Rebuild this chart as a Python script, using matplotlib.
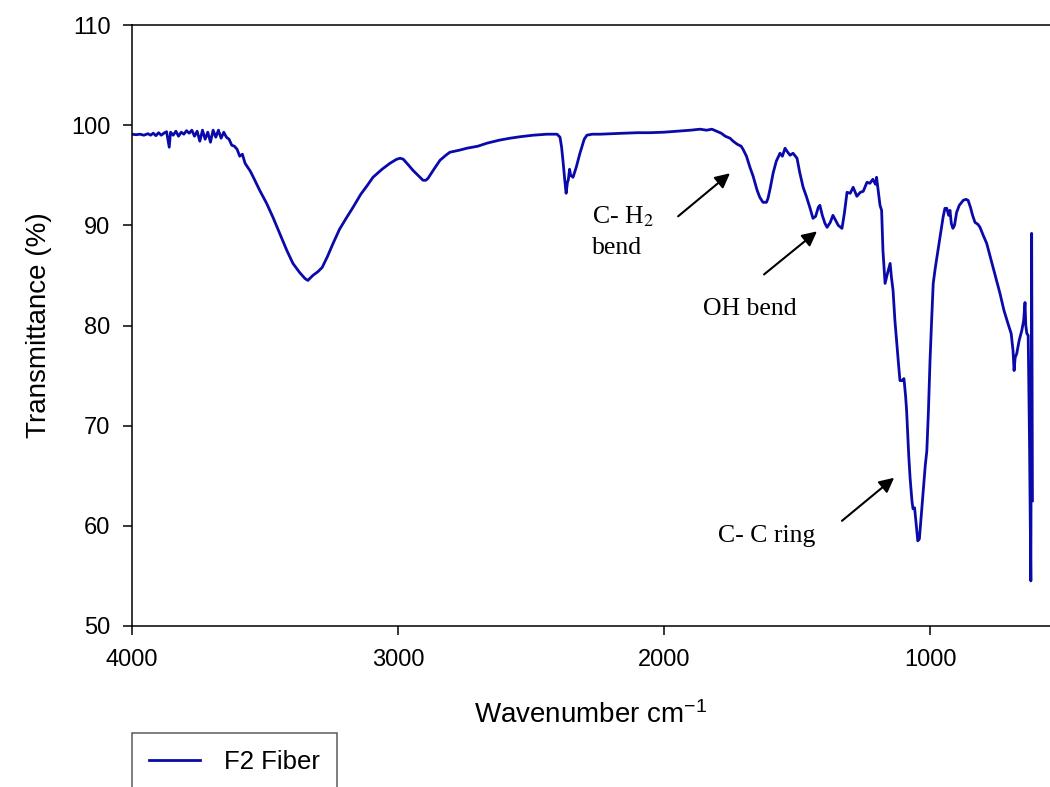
import matplotlib.pyplot as plt

plt.rcParams['font.family'] = ['Liberation Sans', 'DejaVu Sans']
plt.rcParams['mathtext.fontset'] = 'custom'
plt.rcParams['mathtext.rm'] = 'Liberation Sans'
plt.rcParams['mathtext.it'] = 'Liberation Sans:italic'

# FTIR spectrum of the F2 fiber (wavenumber in cm-1, transmittance in %)
wavenumber = [
    4000, 3985, 3970, 3955, 3940, 3930, 3920, 3910, 3900, 3890,
    3880, 3870, 3860, 3855, 3845, 3835, 3825, 3815, 3805, 3795,
    3785, 3775, 3765, 3755, 3745, 3735, 3725, 3715, 3705, 3695,
    3685, 3675, 3665, 3655, 3645, 3635, 3625, 3615, 3605, 3595,
    3585, 3575, 3565, 3555, 3540, 3520, 3494, 3470, 3445, 3418,
    3395, 3370, 3350, 3339, 3320, 3300, 3285, 3265, 3244, 3220,
    3195, 3169, 3140, 3115, 3094, 3060, 3030, 3005, 2992, 2980,
    2960, 2944, 2925, 2906, 2895, 2887, 2865, 2842, 2820, 2805,
    2770, 2741, 2700, 2666, 2620, 2579, 2540, 2492, 2440, 2402,
    2391, 2385, 2380, 2373, 2368, 2363, 2360, 2355, 2351, 2342,
    2330, 2316, 2300, 2290, 2270, 2241, 2200, 2150, 2100, 2053,
    2000, 1950, 1900, 1865, 1840, 1820, 1802, 1785, 1770, 1752,
    1740, 1725, 1710, 1703, 1690, 1677, 1665, 1650, 1640, 1628,
    1615, 1609, 1600, 1590, 1578, 1564, 1555, 1545, 1535, 1526,
    1515, 1500, 1490, 1477, 1465, 1452, 1440, 1430, 1420, 1414,
    1405, 1395, 1387, 1375, 1365, 1355, 1345, 1331, 1322, 1312,
    1300, 1289, 1275, 1262, 1251, 1237, 1226, 1215, 1205, 1201,
    1195, 1188, 1182, 1177, 1169, 1160, 1150, 1145, 1139, 1132,
    1125, 1118, 1113, 1105, 1098, 1092, 1088, 1080, 1075, 1068,
    1064, 1058, 1052, 1046, 1040, 1036, 1031, 1024, 1018, 1012,
    1006, 1000, 994, 988, 980, 970, 960, 951, 944, 937,
    930, 925, 920, 914, 908, 900, 890, 875, 865, 857,
    848, 840, 831, 820, 812, 800, 787, 775, 763, 750,
    737, 722, 707, 695, 688, 684, 680, 674, 665, 655,
    648, 643, 640, 636, 631, 626, 621, 618, 615,
]
transmittance = [
    99.1, 99.05, 99.1, 99.0, 99.15, 99.0, 99.2, 98.95, 99.25, 99.0,
    99.2, 99.35, 97.8, 99.3, 99.0, 99.4, 98.9, 99.3, 99.1, 99.45,
    99.2, 99.5, 98.9, 99.4, 98.4, 99.5, 98.6, 99.3, 98.3, 99.5,
    98.8, 99.5, 98.7, 99.3, 98.8, 98.6, 98.0, 97.9, 97.6, 96.9,
    97.1, 96.2, 95.8, 95.4, 94.6, 93.5, 92.2, 90.8, 89.2, 87.5,
    86.2, 85.3, 84.7, 84.5, 85.0, 85.4, 85.8, 86.9, 88.2, 89.6,
    90.7, 91.8, 93.1, 94.0, 94.8, 95.6, 96.2, 96.6, 96.7, 96.6,
    96.0, 95.5, 95.0, 94.5, 94.5, 94.7, 95.6, 96.5, 97.0, 97.3,
    97.5, 97.7, 97.9, 98.2, 98.5, 98.7, 98.85, 99.0, 99.1, 99.1,
    98.8, 97.8, 96.5, 94.5, 93.2, 94.3, 94.5, 95.6, 95.0, 94.8,
    95.8, 97.2, 98.6, 99.0, 99.1, 99.1, 99.15, 99.2, 99.25, 99.25,
    99.3, 99.4, 99.5, 99.6, 99.5, 99.6, 99.4, 99.2, 98.9, 98.7,
    98.4, 98.1, 97.9, 97.6, 96.9, 95.8, 94.9, 93.5, 92.8, 92.3,
    92.3, 92.7, 93.8, 95.2, 96.4, 97.2, 96.9, 97.7, 97.3, 97.0,
    97.2, 96.7, 95.3, 93.8, 92.9, 91.8, 90.7, 90.9, 91.8, 92.0,
    91.0, 90.2, 89.8, 90.3, 91.0, 90.5, 90.0, 89.7, 91.2, 93.3,
    93.2, 93.8, 92.9, 93.3, 93.4, 94.3, 94.2, 94.6, 94.1, 94.8,
    93.5, 92.0, 91.5, 87.5, 84.2, 85.2, 86.2, 84.8, 83.5, 80.5,
    78.2, 76.0, 74.5, 74.5, 74.7, 73.0, 71.5, 67.0, 64.8, 62.5,
    61.7, 61.8, 60.2, 58.5, 58.7, 60.0, 61.5, 64.0, 66.0, 67.5,
    71.5, 76.5, 80.5, 84.2, 85.8, 87.5, 89.2, 90.8, 91.7, 91.7,
    91.0, 91.5, 90.2, 89.7, 90.0, 91.3, 92.0, 92.5, 92.6, 92.5,
    91.8, 91.0, 90.3, 90.1, 89.8, 89.0, 88.2, 87.0, 85.8, 84.5,
    83.2, 81.5, 80.2, 79.2, 77.5, 75.5, 76.8, 77.2, 78.5, 79.5,
    80.5, 82.3, 80.0, 79.2, 79.0, 68.3, 54.5, 89.2, 62.5,
]

fig = plt.figure(figsize=(10.5, 7.87), dpi=100)
ax = fig.add_axes([0.1257, 0.2046, 0.8743, 0.7636])

ax.plot(wavenumber, transmittance, color='#0a0aaa', lw=2.0, label='F2 Fiber')

ax.set_xlim(4000, 549)
ax.set_ylim(50, 110)
ax.set_xticks([4000, 3000, 2000, 1000])
ax.set_yticks([50, 60, 70, 80, 90, 100, 110])
ax.tick_params(direction='out', length=6.5, width=1.1, labelsize=17)
ax.tick_params(axis='y', pad=9)
ax.tick_params(axis='x', pad=10)
for side in ['left', 'bottom', 'top']:
    ax.spines[side].set_linewidth(1.1)
ax.spines['right'].set_visible(False)

ax.set_xlabel('Wavenumber cm$^{-1}$', fontsize=20, labelpad=22)
ax.set_ylabel('Transmittance (%)', fontsize=20, labelpad=14)

# band assignments
note = dict(fontsize=18.5, family='Liberation Serif', math_fontfamily='stix')
arrow = dict(arrowstyle='-|>', mutation_scale=22, lw=1.5, color='black',
             shrinkA=0, shrinkB=0)
ax.text(2271, 92.1, 'C- H$_2$\nbend', va='top', ha='left', linespacing=1.45, **note)
ax.annotate('', xy=(1752, 95.2), xytext=(1947, 90.9), arrowprops=arrow)
ax.text(1853, 81.6, 'OH bend', va='center', ha='left', **note)
ax.annotate('', xy=(1425, 89.4), xytext=(1624, 85.1), arrowprops=arrow)
ax.text(1797, 59.0, 'C- C ring', va='center', ha='left', **note)
ax.annotate('', xy=(1135, 64.8), xytext=(1331, 60.5), arrowprops=arrow)

leg = fig.legend(loc='upper left', bbox_to_anchor=(0.1257, 1 - 733 / 787),
                 fontsize=18.5, frameon=True, fancybox=False, borderpad=0.65,
                 handlelength=2.0, handletextpad=0.95, borderaxespad=0)
leg.get_frame().set_edgecolor('#333333')
leg.get_frame().set_linewidth(1.1)

fig.savefig('out.png', dpi=100)
